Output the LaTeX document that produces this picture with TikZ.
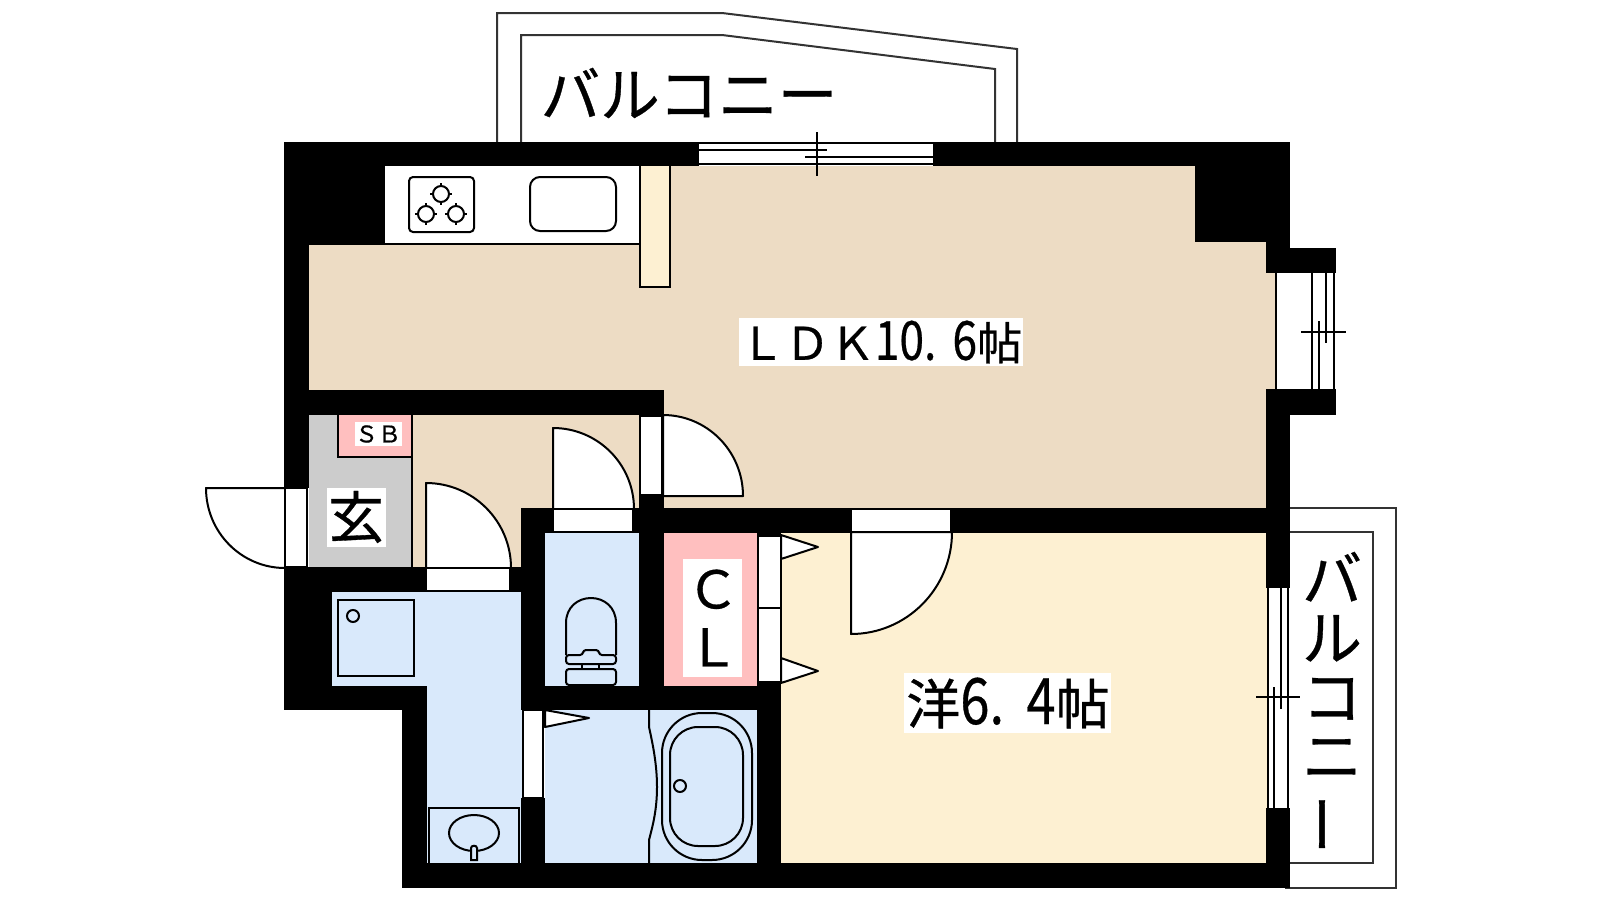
\documentclass[tikz,border=0pt]{standalone}
\usepackage{fontspec}
\setmainfont{Noto Sans CJK JP}[FakeBold=0.6]
\newfontfamily\digits{Noto Sans CJK JP}[FakeStretch=0.82,FakeBold=0.5]
\usetikzlibrary{calc}
\definecolor{ldkfloor}{HTML}{EDDCC4}
\definecolor{bedfloor}{HTML}{FDF0D2}
\definecolor{wetfloor}{HTML}{D9E9FB}
\definecolor{storage}{HTML}{FFBFBF}
\definecolor{entry}{HTML}{CCCCCC}
\definecolor{balc}{HTML}{333333}
\tikzset{
  ln/.style={draw=black,line width=1pt,line join=miter},
  frame/.style={fill=white,draw=black,line width=1pt},
  leaf/.style={fill=white,draw=black,line width=1pt,line join=round},
  wall/.style={fill=black,draw=none},
  balcline/.style={draw=balc,line width=1pt},
  lbl/.style={inner sep=0pt,outer sep=0pt,text=black,align=center},
  wbox/.style={fill=white,draw=none},
}
\newcommand\doorleaf[3]{\path[leaf] #1 -- #2 .. controls ($#2+0.5523*#3-0.5523*#1$) and ($#3+0.5523*#2-0.5523*#1$) .. #3 -- cycle;}
\begin{document}
\begin{tikzpicture}[x=0.5pt,y=-0.5pt]
\useasboundingbox (0,0) rectangle (1600,900);
\fill[white] (0,0) rectangle (1600,900);
% balconies
\draw[balcline] (497,142) -- (497,13) -- (722,13) -- (1017,49) -- (1017,142);
\draw[balcline] (521,142) -- (521,35) -- (722,35) -- (995,69) -- (995,142);
\draw[balcline] (1285,508) -- (1396,508) -- (1396,888) -- (1285,888);
\draw[balcline] (1285,532) -- (1373,532) -- (1373,863) -- (1285,863);
% floors
\fill[ldkfloor] (385,166) rectangle (1195,244);
\fill[ldkfloor] (309,242) rectangle (1276,390);
\fill[ldkfloor] (664,390) rectangle (1270,510);
\fill[ldkfloor] (412,415) rectangle (640,510);
\fill[ldkfloor] (412,508) rectangle (522,568);
\fill[entry] (309,415) rectangle (412,567);
\fill[bedfloor] (781,533) rectangle (1268,864);
\fill[wetfloor] (332,592) rectangle (522,687);
\fill[wetfloor] (427,686) rectangle (522,864);
\fill[wetfloor] (545,533) rectangle (639,687);
\fill[wetfloor] (545,710) rectangle (757,864);
\fill[storage] (664,533) rectangle (758,687);
% kitchen counter
\fill[white] (385,166) rectangle (640,244);
\draw[ln] (385,244) -- (640,244);
% walls
\fill[wall] (284,142) rectangle (699,166);
\fill[wall] (933,142) rectangle (1290,166);
\fill[wall] (284,142) rectangle (385,245);
\fill[wall] (284,142) rectangle (309,488);
\fill[wall] (284,390) rectangle (664,415);
\fill[wall] (284,567) rectangle (426,592);
\fill[wall] (284,567) rectangle (332,710);
\fill[wall] (284,686) rectangle (427,710);
\fill[wall] (402,686) rectangle (427,888);
\fill[wall] (402,863) rectangle (1290,888);
\fill[wall] (510,567) rectangle (545,592);
\fill[wall] (521,508) rectangle (545,710);
\fill[wall] (521,798) rectangle (545,863);
\fill[wall] (521,508) rectangle (553,533);
\fill[wall] (633,508) rectangle (851,533);
\fill[wall] (951,508) rectangle (1290,533);
\fill[wall] (639,495) rectangle (664,710);
\fill[wall] (521,686) rectangle (781,710);
\fill[wall] (757,533) rectangle (781,536);
\fill[wall] (757,682) rectangle (781,888);
\fill[wall] (1195,142) rectangle (1290,242);
\fill[wall] (1266,242) rectangle (1290,273);
\fill[wall] (1266,248) rectangle (1336,273);
\fill[wall] (1266,389) rectangle (1336,415);
\fill[wall] (1266,389) rectangle (1290,588);
\fill[wall] (1266,808) rectangle (1290,888);
% tall unit by the kitchen
\path[ln,fill=bedfloor] (640,166) -- (640,287) -- (670,287) -- (670,166);
% genkan and SB
\draw[ln] (412,457) -- (412,567);
\path[ln,fill=storage] (338,415) -- (338,457) -- (412,457) -- (412,415);
\fill[wbox] (355,422) rectangle (402,446);
\fill[wbox] (327,488) rectangle (386,547);
% door frames and leaves
\doorleaf{(285,488)}{(206,488)}{(285,568)}
\path[frame] (285,488) rectangle (307,567);
\doorleaf{(426,568)}{(426,483)}{(511,568)}
\path[frame] (426,568) rectangle (510,591);
\doorleaf{(553,509)}{(553,428)}{(634,509)}
\path[frame] (553,509) rectangle (633,532);
\doorleaf{(663,496)}{(743,496)}{(663,415)}
\path[frame] (640,416) rectangle (662,495);
\doorleaf{(851,532)}{(851,634)}{(952,532)}
\path[frame] (851,509) rectangle (951,532);
% closet doors
\path[frame] (758,536) rectangle (781,608);
\path[frame] (758,608) rectangle (781,682);
\path[leaf] (781,535) -- (818,547) -- (781,559) -- cycle;
\path[leaf] (781,658) -- (818,671) -- (781,683) -- cycle;
% bath door
\path[frame] (523,710) rectangle (543,798);
\path[leaf] (545,710) -- (589,718) -- (545,727) -- cycle;
% top window
\fill[white] (699,142) rectangle (933,166);
\draw[ln] (699,143) -- (933,143);
\draw[ln] (699,164) -- (933,164);
\draw[ln] (699,150) -- (827,150);
\draw[ln] (805,157) -- (933,157);
\draw[ln] (817,132) -- (817,176);
% right upper window
\fill[white] (1276,273) rectangle (1334,389);
\draw[ln] (1276,273) -- (1276,389);
\draw[ln] (1312,273) -- (1312,389);
\draw[ln] (1334,273) -- (1334,389);
\draw[ln] (1319,321) -- (1319,389);
\draw[ln] (1326,273) -- (1326,343);
\draw[ln] (1301,332) -- (1346,332);
% right lower window
\fill[white] (1268,588) rectangle (1288,808);
\draw[ln] (1268,588) -- (1268,808);
\draw[ln] (1288,588) -- (1288,808);
\draw[ln] (1274,687) -- (1274,808);
\draw[ln] (1281,588) -- (1281,709);
\draw[ln] (1256,697) -- (1300,697);
% stove and sink
\draw[ln,rounded corners=2pt] (409,177) rectangle (474,232);
\foreach \bx/\by in {441/194,426/214,456/214}{
  \draw[ln] (\bx,\by) circle[radius=8];
  \draw[ln,line width=.7pt] (\bx-11,\by) -- (\bx-8,\by) (\bx+8,\by) -- (\bx+11,\by) (\bx,\by-11) -- (\bx,\by-8) (\bx,\by+8) -- (\bx,\by+11);
}
\draw[ln,rounded corners=5pt] (530,177) rectangle (616,231);
% washer pan
\draw[ln] (338,600) rectangle (414,676);
\draw[ln] (353,616) circle[radius=6];
% toilet
\draw[ln,rounded corners=1.5pt] (566,669) rectangle (616,685);
\draw[ln] (582,664) -- (582,669) (599,664) -- (599,669);
\draw[ln,rounded corners=1.5pt,line join=round] (566,664) -- (616,664) -- (616,655) -- (599,655) -- (599,650) -- (583,650) -- (583,655) -- (566,655) -- cycle;
\draw[ln] (566,655) -- (566,623) .. controls (566,607) and (578,598) .. (591,598) .. controls (604,598) and (616,607) .. (616,623) -- (616,655);
% bath
\draw[ln] (649,710) -- (649,727) .. controls (653,745) and (657,765) .. (657,787) .. controls (657,809) and (653,825) .. (649,840) -- (649,863);
\draw[ln,rounded corners=20pt] (662,713) rectangle (752,860);
\draw[ln,rounded corners=14pt] (670,727) rectangle (743,846);
\draw[ln] (680,786) circle[radius=6];
% wash basin
\draw[ln] (429,863) -- (429,808) -- (519,808) -- (519,863);
\draw[ln] (474,833) ellipse[x radius=25,y radius=18];
\path[ln,fill=wetfloor] (471,860) -- (471,848) .. controls (471,845) and (477,845) .. (477,848) -- (477,860) -- cycle;
% labels
\fill[wbox] (739,318) rectangle (1023,366);
\fill[wbox] (904,673) rectangle (1111,733);
\fill[wbox] (683,559) rectangle (742,677);
\node[lbl,font=\fontsize{29.8}{30}\selectfont] (topbalcony) at (689,93) {バルコニー};
\node[lbl,font=\fontsize{30}{29.5}\selectfont] (sidebalcony) at (1332,703) {バ\\ル\\コ\\ニ\\\rotatebox[origin=c]{90}{ー}};
\node[lbl,font=\fontsize{22.5}{24}\selectfont] (ldk) at (881,342) {ＬＤＫ{\digits\fontsize{27}{27}\selectfont 10.\hspace{0.3em}6}帖};
\node[lbl,font=\fontsize{27}{30}\selectfont] (yo) at (1008,703) {洋{\digits\fontsize{32}{30}\selectfont 6.\hspace{0.35em}4}帖};
\node[lbl,font=\fontsize{11.5}{12}\selectfont] (sb) at (378,434) {ＳＢ};
\node[lbl,font=\fontsize{28}{30}\selectfont] (gen) at (356,517) {玄};
\node[lbl,font=\fontsize{26}{29}\selectfont] (cl) at (713,618) {Ｃ\\Ｌ};
\end{tikzpicture}
\end{document}
